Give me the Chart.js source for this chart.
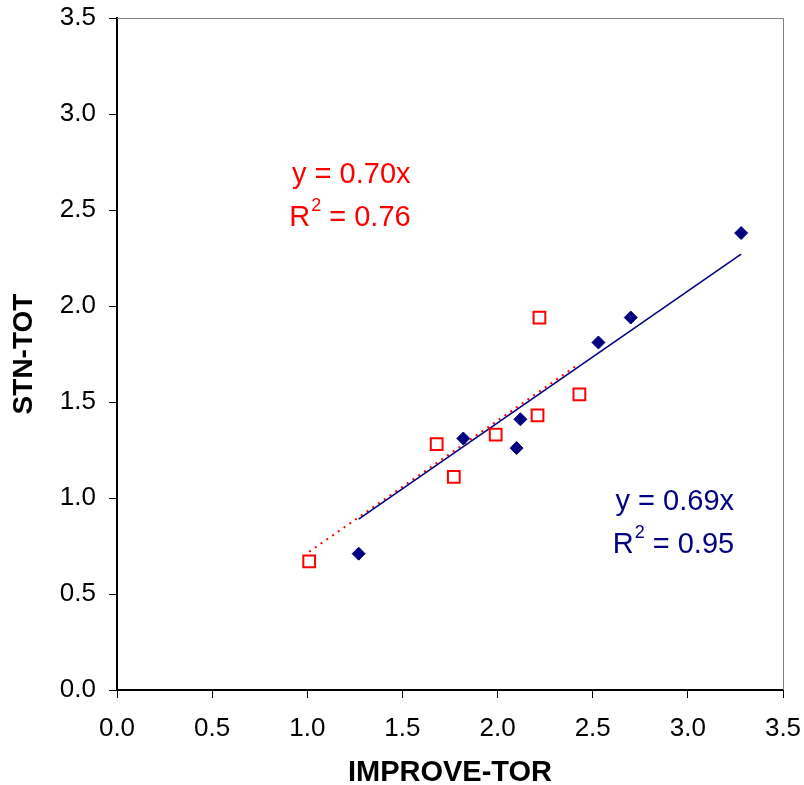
<!DOCTYPE html>
<html>
<head>
<meta charset="utf-8">
<script src="https://cdn.jsdelivr.net/npm/chart.js@4/dist/chart.umd.min.js"></script>
<style>
  html, body { margin: 0; padding: 0; background: #fff; }
  #wrap { width: 804px; height: 785px; position: relative; }
</style>
</head>
<body>
<div id="wrap"><canvas id="c" width="804" height="785"></canvas></div>
<script>
// ---- data ----
const xTickLabels = ['0.0', '0.5', '1.0', '1.5', '2.0', '2.5', '3.0', '3.5'];
const yTickLabels = ['0.0', '0.5', '1.0', '1.5', '2.0', '2.5', '3.0', '3.5'];

// filled navy diamonds
const blueX = [1.27, 1.82, 2.12, 2.10, 2.53, 2.70, 3.28];
const blueY = [0.71, 1.31, 1.41, 1.26, 1.81, 1.94, 2.38];

// open red squares
const redX = [1.01, 1.68, 1.77, 1.99, 2.21, 2.22, 2.43];
const redY = [0.67, 1.28, 1.11, 1.33, 1.43, 1.94, 1.54];

// trend line end points
const blueTrendX = [1.27, 3.28];
const blueTrendY = [0.89, 2.27];
const redTrendX = [1.01, 2.43];
const redTrendY = [0.72, 1.70];

// equation labels (anchors in data units)
const redEq = { eq: 'y = 0.70x', r2: '0.76', x1: 0.92, y1: 2.68, x2: 0.905, y2: 2.46 };
const blueEq = { eq: 'y = 0.69x', r2: '0.95', x1: 2.62, y1: 0.98, x2: 2.605, y2: 0.755 };

const NAVY = '#000080';
const RED = '#FF0000';
const FONT = "'Liberation Sans', Arial, sans-serif";

const toPts = (xs, ys) => xs.map((x, i) => ({ x: x, y: ys[i] }));

const framePlugin = {
  id: 'frame',
  afterDatasetsDraw(chart) {
    const { ctx, chartArea: a } = chart;
    ctx.save();
    ctx.strokeStyle = '#808080';
    ctx.lineWidth = 1;
    ctx.beginPath();
    ctx.moveTo(a.left, a.top + 0.5);
    ctx.lineTo(a.right + 0.5, a.top + 0.5);
    ctx.lineTo(a.right + 0.5, a.bottom);
    ctx.stroke();
    ctx.restore();
  }
};

const eqPlugin = {
  id: 'eq',
  afterDraw(chart) {
    const { ctx } = chart;
    const xs = chart.scales.x, ys = chart.scales.y;
    const draw = (e, color) => {
      ctx.save();
      ctx.fillStyle = color;
      ctx.textBaseline = 'middle';
      ctx.textAlign = 'left';
      ctx.font = '29px ' + FONT;
      ctx.fillText(e.eq, xs.getPixelForValue(e.x1), ys.getPixelForValue(e.y1));
      let px = xs.getPixelForValue(e.x2);
      const py = ys.getPixelForValue(e.y2);
      ctx.fillText('R', px, py);
      px += ctx.measureText('R').width;
      ctx.font = '18px ' + FONT;
      ctx.fillText('2', px + 1, py - 12);
      px += ctx.measureText('2').width + 1;
      ctx.font = '29px ' + FONT;
      ctx.fillText(' = ' + e.r2, px, py);
      ctx.restore();
    };
    draw(redEq, RED);
    draw(blueEq, NAVY);
  }
};

new Chart(document.getElementById('c'), {
  type: 'scatter',
  data: {
    datasets: [
      {
        label: 'blue trend',
        type: 'line',
        data: toPts(blueTrendX, blueTrendY),
        borderColor: NAVY,
        borderWidth: 1.6,
        pointRadius: 0,
        fill: false,
        order: 3
      },
      {
        label: 'red trend',
        type: 'line',
        data: toPts(redTrendX, redTrendY),
        borderColor: RED,
        borderWidth: 2,
        borderDash: [2, 5],
        pointRadius: 0,
        fill: false,
        order: 3
      },
      {
        label: 'blue',
        data: toPts(blueX, blueY),
        pointStyle: 'rectRot',
        pointRadius: 6.5,
        pointBackgroundColor: NAVY,
        pointBorderColor: NAVY,
        pointBorderWidth: 1,
        order: 1
      },
      {
        label: 'red',
        data: toPts(redX, redY),
        pointStyle: 'rect',
        pointRadius: 8.3,
        pointBackgroundColor: '#fff',
        pointBorderColor: RED,
        pointBorderWidth: 2,
        order: 2
      }
    ]
  },
  options: {
    responsive: false,
    animation: false,
    layout: { padding: { top: 18, right: 21, left: 0, bottom: 0 } },
    plugins: { legend: { display: false }, tooltip: { enabled: false } },
    scales: {
      x: {
        type: 'linear',
        min: 0, max: 3.5,
        afterFit: s => { s.height = 95; s.paddingLeft = 0; s.paddingRight = 0; },
        ticks: {
          stepSize: 0.5,
          autoSkip: false,
          maxRotation: 0,
          padding: 15,
          color: '#000',
          font: { family: FONT, size: 26 },
          callback: (v, i) => xTickLabels[i]
        },
        grid: { display: true, drawOnChartArea: false, drawTicks: true, tickLength: 8, tickColor: '#000', tickWidth: 1 },
        border: { display: true, color: '#000', width: 2 },
        title: {
          display: true, text: 'IMPROVE-TOR', color: '#000',
          font: { family: FONT, size: 29, weight: 'bold', lineHeight: 0.85 },
          padding: 0
        }
      },
      y: {
        type: 'linear',
        min: 0, max: 3.5,
        afterFit: s => { s.width = 117; s.paddingTop = 0; s.paddingBottom = 0; },
        ticks: {
          stepSize: 0.5,
          autoSkip: false,
          padding: 13,
          color: '#000',
          font: { family: FONT, size: 26 },
          callback: (v, i) => yTickLabels[i]
        },
        grid: { display: true, drawOnChartArea: false, drawTicks: true, tickLength: 8, tickColor: '#000', tickWidth: 1 },
        border: { display: true, color: '#000', width: 2 },
        title: {
          display: true, text: 'STN-TOT', color: '#000',
          font: { family: FONT, size: 28, weight: 'bold', lineHeight: 1.2 },
          padding: { top: 7, bottom: 0 }
        }
      }
    }
  },
  plugins: [framePlugin, eqPlugin]
});
</script>
</body>
</html>
